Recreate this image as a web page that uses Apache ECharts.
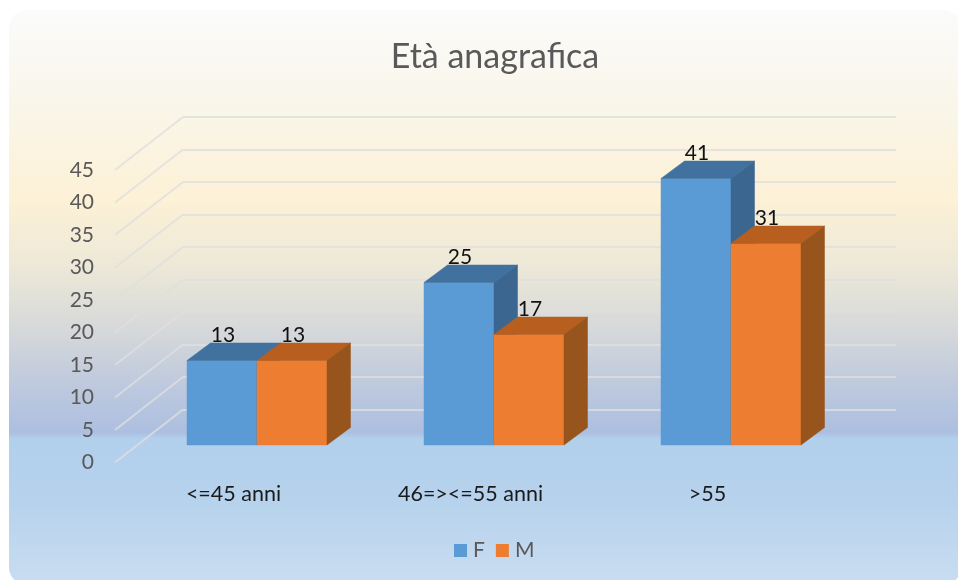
<!DOCTYPE html>
<html>
<head>
<meta charset="utf-8">
<title>Età anagrafica</title>
<style>
html, body { margin: 0; padding: 0; background: #fff; }
#chart { width: 958px; height: 580px; }
</style>
<script src="https://cdn.jsdelivr.net/npm/echarts@6/dist/echarts.min.js"></script>
</head>
<body>
<div id="chart"></div>
<script>
const categories = ["<=45 anni", "46=><=55 anni", ">55"];
const valuesF = [13, 25, 41];
const valuesM = [13, 17, 31];
const yTicks = [0, 5, 10, 15, 20, 25, 30, 35, 40, 45];

const FONT = "Lato, 'Open Sans', sans-serif";
const barWidth = 70;

// the floor runs from the front plane (axis labels) to the back wall
const wallDx = 68, wallDy = -53;
const frontDx = 23.5, frontDy = -17.5;
const depthDx = 23.5, depthDy = -17.5;

const chart = echarts.init(document.getElementById("chart"));

function poly(points, fill) {
    return { type: "polygon", shape: { points: points }, style: { fill: fill, stroke: fill, lineWidth: 0.5 } };
}

function bar3d(side, front, top, right) {
    return function (params, api) {
        const base = api.coord([api.value(0), 0]);
        const head = api.coord([api.value(0), api.value(1)]);
        const x0 = base[0] + frontDx + (side < 0 ? -barWidth : 0);
        const x1 = x0 + barWidth;
        const y0 = base[1] + frontDy;
        const y1 = head[1] + frontDy;
        return {
            type: "group",
            children: [
                poly([[x0, y0], [x1, y0], [x1, y1], [x0, y1]], front),
                poly([[x0, y1], [x1, y1], [x1 + depthDx, y1 + depthDy], [x0 + depthDx, y1 + depthDy]], top),
                poly([[x1, y0], [x1 + depthDx, y0 + depthDy], [x1 + depthDx, y1 + depthDy], [x1, y1]], right),
                {
                    type: "text",
                    z2: 10,
                    style: {
                        text: String(api.value(1)),
                        x: (x0 + x1) / 2 + 1,
                        y: y1 + depthDy + 3,
                        align: "center",
                        verticalAlign: "bottom",
                        fill: "#111",
                        font: "21px " + FONT
                    }
                }
            ]
        };
    };
}

function floorLine(params, api) {
    const p = api.coord([0, api.value(1)]);
    const x = params.coordSys.x;
    return {
        type: "line",
        shape: { x1: x, y1: p[1], x2: x + wallDx, y2: p[1] + wallDy },
        style: { stroke: "rgba(222,222,222,0.8)", lineWidth: 2 }
    };
}

chart.setOption({
    animation: false,
    backgroundColor: "#fff",
    graphic: [{
        type: "rect",
        z: -10,
        silent: true,
        shape: { x: 9, y: 10, width: 952, height: 575, r: 18 },
        style: {
            fill: new echarts.graphic.LinearGradient(0, 0, 0, 1, [
                { offset: 0, color: "#fbfbfb" },
                { offset: 0.16, color: "#f9f6ea" },
                { offset: 0.33, color: "#fdf1d6" },
                { offset: 0.45, color: "#ece8d8" },
                { offset: 0.56, color: "#d5d8da" },
                { offset: 0.66, color: "#bcc8de" },
                { offset: 0.735, color: "#adbfe0" },
                { offset: 0.745, color: "#b2cfec" },
                { offset: 0.85, color: "#b6d2ec" },
                { offset: 1, color: "#c9ddf1" }
            ])
        }
    }],
    title: {
        text: "Età anagrafica",
        left: 490,
        top: 35,
        textAlign: "center",
        textStyle: { fontFamily: FONT, fontSize: 34, fontWeight: "normal", color: "#595959" }
    },
    legend: {
        data: ["F", "M"],
        left: 449,
        top: 535,
        icon: "rect",
        itemWidth: 13,
        itemHeight: 13,
        itemGap: 11,
        textStyle: { fontFamily: FONT, fontSize: 21, color: "#595959", padding: [0, 0, 0, 1] }
    },
    grid: [
        { left: 183, top: 117, width: 713, height: 292.5 },
        { left: 115, top: 170, width: 711, height: 292.5 }
    ],
    xAxis: [
        { gridIndex: 0, type: "category", data: categories, axisLine: { show: false }, axisTick: { show: false }, axisLabel: { show: false } },
        {
            gridIndex: 1,
            type: "category",
            data: categories,
            axisLine: { show: false },
            axisTick: { show: false },
            axisLabel: { margin: 21, fontFamily: FONT, fontSize: 21.5, color: "#1a1a1a", interval: 0 }
        }
    ],
    yAxis: [
        {
            gridIndex: 0, type: "value", min: 0, max: 45, interval: 5,
            axisLine: { show: false }, axisTick: { show: false }, axisLabel: { show: false },
            splitLine: { lineStyle: { color: "rgba(222,222,222,0.8)", width: 2 } }
        },
        {
            gridIndex: 1, type: "value", min: 0, max: 45, interval: 5,
            axisLine: { show: false }, axisTick: { show: false }, splitLine: { show: false },
            axisLabel: { margin: 21, fontFamily: FONT, fontSize: 21, color: "#595959" }
        }
    ],
    series: [
        {
            type: "custom",
            xAxisIndex: 1,
            yAxisIndex: 1,
            silent: true,
            z: 1,
            clip: false,
            encode: { x: 0, y: 1 },
            data: yTicks.map(function (t) { return [0, t]; }),
            renderItem: floorLine
        },
        {
            name: "F",
            type: "custom",
            xAxisIndex: 1,
            yAxisIndex: 1,
            z: 2,
            clip: false,
            itemStyle: { color: "#5b9bd5" },
            encode: { x: 0, y: 1 },
            data: valuesF.map(function (v, i) { return [i, v]; }),
            renderItem: bar3d(-1, "#5b9bd5", "#41729f", "#3a6690")
        },
        {
            name: "M",
            type: "custom",
            xAxisIndex: 1,
            yAxisIndex: 1,
            z: 3,
            clip: false,
            itemStyle: { color: "#ed7d31" },
            encode: { x: 0, y: 1 },
            data: valuesM.map(function (v, i) { return [i, v]; }),
            renderItem: bar3d(1, "#ed7d31", "#b85f20", "#97541c")
        }
    ]
});

window.addEventListener("resize", function () { chart.resize(); });
</script>
</body>
</html>
